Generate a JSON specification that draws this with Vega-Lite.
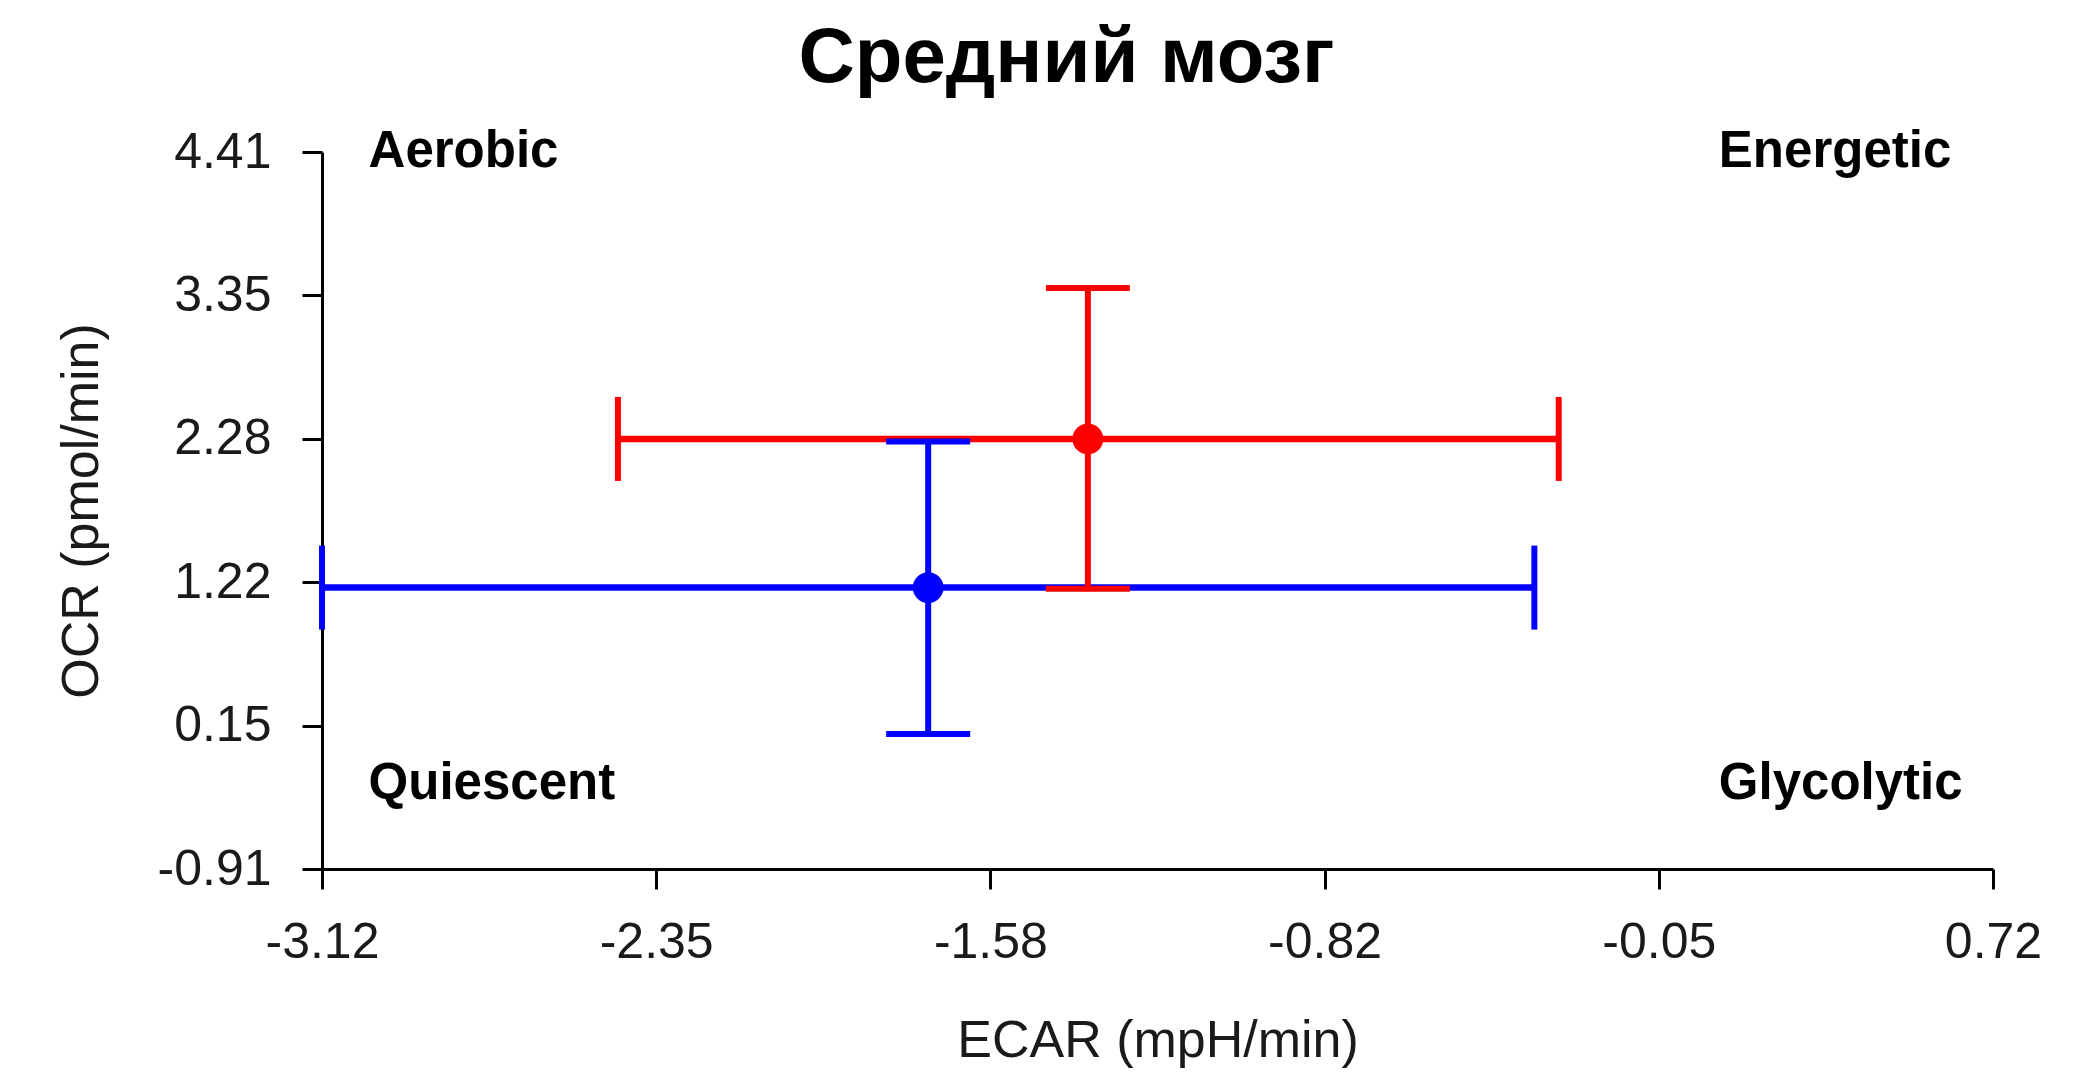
{
  "$schema": "https://vega.github.io/schema/vega-lite/v6.json",
  "width": 1671,
  "height": 717,
  "autosize": {"type": "none"},
  "padding": {"left": 322, "top": 152, "right": 101, "bottom": 203},
  "background": "white",
  "config": {
    "view": {"stroke": null},
    "font": "Liberation Sans",
    "axisX": {"grid": false, "labelFontSize": 50, "labelColor": "#1a1a1a", "labelPadding": 28, "labelFlush": false, "labelOverlap": false, "labelExpr": "replace(datum.label, '\u2212', '-')", "tickSize": 20, "tickWidth": 3, "tickColor": "#000", "domainColor": "#000", "domainWidth": 3, "titleFontSize": 52, "titleFontWeight": "normal", "titleColor": "#1a1a1a", "titlePadding": 48},
    "axisY": {"grid": false, "labelFontSize": 50, "labelColor": "#1a1a1a", "labelPadding": 31, "labelFlush": false, "labelOverlap": false, "labelExpr": "replace(datum.label, '\u2212', '-')", "tickSize": 20, "tickWidth": 3, "tickColor": "#000", "domainColor": "#000", "domainWidth": 3, "titleFontSize": 52, "titleFontWeight": "normal", "titleColor": "#1a1a1a", "titlePadding": 49}
  },
  "title": {"text": "Средний мозг", "fontSize": 78, "fontWeight": "bold", "font": "Liberation Sans", "color": "#000", "anchor": "middle", "frame": "group", "dx": -91, "offset": -34, "baseline": "alphabetic"},
  "datasets": {
    "groups": [
      {"group": "blue", "ecar": -1.727, "ocr": 1.178, "ecar_lo": -3.12, "ecar_hi": -0.334, "ocr_lo": 0.091, "ocr_hi": 2.262},
      {"group": "red", "ecar": -1.36, "ocr": 2.281, "ecar_lo": -2.44, "ecar_hi": -0.278, "ocr_lo": 1.17, "ocr_hi": 3.4}
    ],
    "quadrants": [
      {"label": "Aerobic", "ecar": -3.013, "ocr": 4.41},
      {"label": "Energetic", "ecar": 0.09, "ocr": 4.41},
      {"label": "Quiescent", "ecar": -3.013, "ocr": -0.28},
      {"label": "Glycolytic", "ecar": 0.09, "ocr": -0.28}
    ]
  },
  "layer": [
    {
      "data": {"name": "groups"},
      "mark": {"type": "rule", "strokeWidth": 6.5},
      "encoding": {
        "x": {"field": "ecar_lo", "type": "quantitative", "title": "ECAR (mpH/min)", "scale": {"domain": [-3.12, 0.72], "nice": false, "zero": false}, "axis": {"values": [-3.12, -2.352, -1.584, -0.816, -0.048, 0.72], "format": ".2f"}},
        "x2": {"field": "ecar_hi"},
        "y": {"field": "ocr", "type": "quantitative", "title": "OCR (pmol/min)", "scale": {"domain": [-0.91, 4.41], "nice": false, "zero": false}, "axis": {"values": [-0.91, 0.154, 1.218, 2.282, 3.346, 4.41], "format": ".2f"}},
        "color": {"field": "group", "type": "nominal", "scale": {"domain": ["blue", "red"], "range": ["#0000FF", "#FF0000"]}, "legend": null}
      }
    },
    {
      "data": {"name": "groups"},
      "mark": {"type": "rule", "strokeWidth": 6},
      "encoding": {
        "x": {"field": "ecar", "type": "quantitative", "title": "ECAR (mpH/min)", "scale": {"domain": [-3.12, 0.72], "nice": false, "zero": false}, "axis": {"values": [-3.12, -2.352, -1.584, -0.816, -0.048, 0.72], "format": ".2f"}},
        "y": {"field": "ocr_lo", "type": "quantitative", "title": "OCR (pmol/min)", "scale": {"domain": [-0.91, 4.41], "nice": false, "zero": false}, "axis": {"values": [-0.91, 0.154, 1.218, 2.282, 3.346, 4.41], "format": ".2f"}},
        "y2": {"field": "ocr_hi"},
        "color": {"field": "group", "type": "nominal", "scale": {"domain": ["blue", "red"], "range": ["#0000FF", "#FF0000"]}, "legend": null}
      }
    },
    {
      "data": {"name": "groups"},
      "mark": {"type": "tick", "orient": "vertical", "size": 84, "thickness": 6, "opacity": 1},
      "encoding": {
        "x": {"field": "ecar_lo", "type": "quantitative", "title": "ECAR (mpH/min)", "scale": {"domain": [-3.12, 0.72], "nice": false, "zero": false}, "axis": {"values": [-3.12, -2.352, -1.584, -0.816, -0.048, 0.72], "format": ".2f"}},
        "y": {"field": "ocr", "type": "quantitative", "title": "OCR (pmol/min)", "scale": {"domain": [-0.91, 4.41], "nice": false, "zero": false}, "axis": {"values": [-0.91, 0.154, 1.218, 2.282, 3.346, 4.41], "format": ".2f"}},
        "color": {"field": "group", "type": "nominal", "scale": {"domain": ["blue", "red"], "range": ["#0000FF", "#FF0000"]}, "legend": null}
      }
    },
    {
      "data": {"name": "groups"},
      "mark": {"type": "tick", "orient": "vertical", "size": 84, "thickness": 6, "opacity": 1},
      "encoding": {
        "x": {"field": "ecar_hi", "type": "quantitative", "title": "ECAR (mpH/min)", "scale": {"domain": [-3.12, 0.72], "nice": false, "zero": false}, "axis": {"values": [-3.12, -2.352, -1.584, -0.816, -0.048, 0.72], "format": ".2f"}},
        "y": {"field": "ocr", "type": "quantitative", "title": "OCR (pmol/min)", "scale": {"domain": [-0.91, 4.41], "nice": false, "zero": false}, "axis": {"values": [-0.91, 0.154, 1.218, 2.282, 3.346, 4.41], "format": ".2f"}},
        "color": {"field": "group", "type": "nominal", "scale": {"domain": ["blue", "red"], "range": ["#0000FF", "#FF0000"]}, "legend": null}
      }
    },
    {
      "data": {"name": "groups"},
      "mark": {"type": "tick", "orient": "horizontal", "size": 84, "thickness": 6, "opacity": 1},
      "encoding": {
        "x": {"field": "ecar", "type": "quantitative", "title": "ECAR (mpH/min)", "scale": {"domain": [-3.12, 0.72], "nice": false, "zero": false}, "axis": {"values": [-3.12, -2.352, -1.584, -0.816, -0.048, 0.72], "format": ".2f"}},
        "y": {"field": "ocr_lo", "type": "quantitative", "title": "OCR (pmol/min)", "scale": {"domain": [-0.91, 4.41], "nice": false, "zero": false}, "axis": {"values": [-0.91, 0.154, 1.218, 2.282, 3.346, 4.41], "format": ".2f"}},
        "color": {"field": "group", "type": "nominal", "scale": {"domain": ["blue", "red"], "range": ["#0000FF", "#FF0000"]}, "legend": null}
      }
    },
    {
      "data": {"name": "groups"},
      "mark": {"type": "tick", "orient": "horizontal", "size": 84, "thickness": 6, "opacity": 1},
      "encoding": {
        "x": {"field": "ecar", "type": "quantitative", "title": "ECAR (mpH/min)", "scale": {"domain": [-3.12, 0.72], "nice": false, "zero": false}, "axis": {"values": [-3.12, -2.352, -1.584, -0.816, -0.048, 0.72], "format": ".2f"}},
        "y": {"field": "ocr_hi", "type": "quantitative", "title": "OCR (pmol/min)", "scale": {"domain": [-0.91, 4.41], "nice": false, "zero": false}, "axis": {"values": [-0.91, 0.154, 1.218, 2.282, 3.346, 4.41], "format": ".2f"}},
        "color": {"field": "group", "type": "nominal", "scale": {"domain": ["blue", "red"], "range": ["#0000FF", "#FF0000"]}, "legend": null}
      }
    },
    {
      "data": {"name": "groups"},
      "mark": {"type": "circle", "size": 950, "opacity": 1},
      "encoding": {
        "x": {"field": "ecar", "type": "quantitative", "title": "ECAR (mpH/min)", "scale": {"domain": [-3.12, 0.72], "nice": false, "zero": false}, "axis": {"values": [-3.12, -2.352, -1.584, -0.816, -0.048, 0.72], "format": ".2f"}},
        "y": {"field": "ocr", "type": "quantitative", "title": "OCR (pmol/min)", "scale": {"domain": [-0.91, 4.41], "nice": false, "zero": false}, "axis": {"values": [-0.91, 0.154, 1.218, 2.282, 3.346, 4.41], "format": ".2f"}},
        "color": {"field": "group", "type": "nominal", "scale": {"domain": ["blue", "red"], "range": ["#0000FF", "#FF0000"]}, "legend": null}
      }
    },
    {
      "data": {"name": "quadrants"},
      "mark": {"type": "text", "align": "left", "baseline": "middle", "fontSize": 51, "fontWeight": "bold", "font": "Liberation Sans", "color": "#000"},
      "encoding": {
        "x": {"field": "ecar", "type": "quantitative", "title": "ECAR (mpH/min)", "scale": {"domain": [-3.12, 0.72], "nice": false, "zero": false}, "axis": {"values": [-3.12, -2.352, -1.584, -0.816, -0.048, 0.72], "format": ".2f"}},
        "y": {"field": "ocr", "type": "quantitative", "title": "OCR (pmol/min)", "scale": {"domain": [-0.91, 4.41], "nice": false, "zero": false}, "axis": {"values": [-0.91, 0.154, 1.218, 2.282, 3.346, 4.41], "format": ".2f"}},
        "text": {"field": "label", "type": "nominal"}
      }
    }
  ]
}
